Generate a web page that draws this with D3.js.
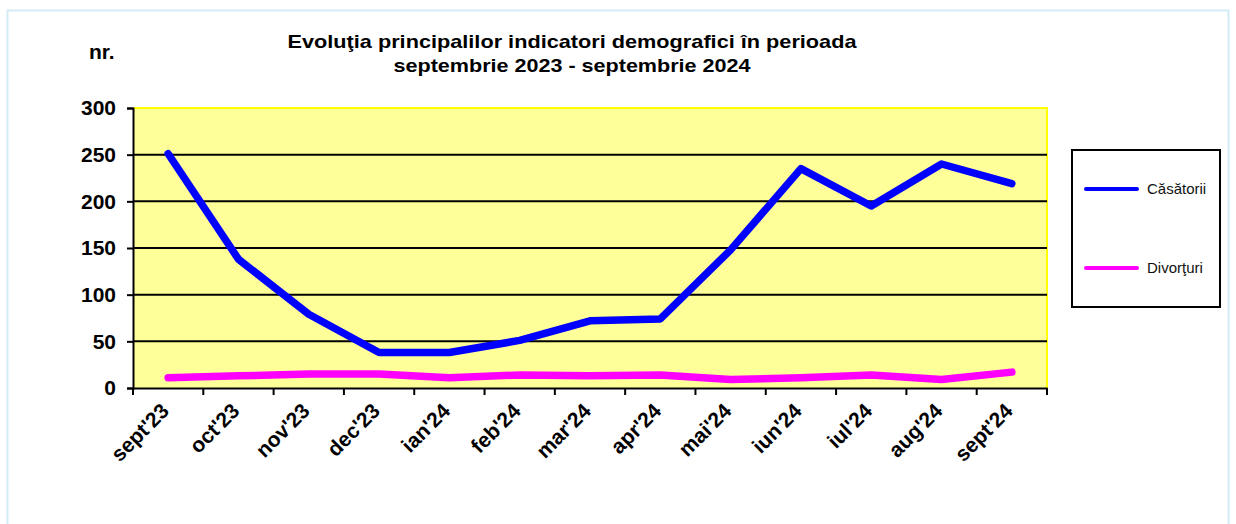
<!DOCTYPE html>
<html>
<head>
<meta charset="utf-8">
<script src="https://cdn.jsdelivr.net/npm/d3@7"></script>
<style>
    body { margin: 0; background: #fff; }
    svg { display: block; font-family: "Liberation Sans", Arial, sans-serif; }
</style>
</head>
<body>
<svg class="chart"></svg>
<script>
var months = ["sept'23", "oct'23", "nov'23", "dec'23", "ian'24", "feb'24", "mar'24",
              "apr'24", "mai'24", "iun'24", "iul'24", "aug'24", "sept'24"];
var casatorii = [251, 138, 79, 38, 38, 51, 72, 74, 148, 235, 195, 240, 219];
var divorturi = [11, 13, 15, 15, 11, 14, 13, 14, 9, 11, 14, 9, 17];
var yTicks = [0, 50, 100, 150, 200, 250, 300];
var seriesNames = ['Căsătorii', 'Divorţuri'];
var titleLines = ['Evoluţia principalilor indicatori demografici în perioada',
                  'septembrie 2023 - septembrie 2024'];

var config = {
    width: 1236,
    height: 524,
    margin: { top: 108, right: 189, bottom: 136, left: 133 }
};
config.innerWidth = config.width - config.margin.left - config.margin.right;
config.innerHeight = config.height - config.margin.top - config.margin.bottom;

var colors = ['#0000ff', '#ff00ff'];
var series = [casatorii, divorturi];

var chart = d3.select('.chart')
    .attr('width', config.width)
    .attr('height', config.height);

// outer frame
chart.append('rect')
    .attr('x', 7.5).attr('y', 10.5)
    .attr('width', 1221).attr('height', 530)
    .attr('fill', 'none')
    .attr('stroke', '#d2ebf5')
    .attr('stroke-width', 2);

// title
chart.selectAll('.title')
    .data(titleLines)
    .enter().append('text')
    .attr('class', 'title')
    .attr('x', 572)
    .attr('y', function(d, i) { return i ? 72 : 48; })
    .attr('text-anchor', 'middle')
    .attr('font-size', 19)
    .attr('font-weight', 'bold')
    .attr('textLength', function(d, i) { return i ? 357 : 569; })
    .attr('lengthAdjust', 'spacingAndGlyphs')
    .text(function(d) { return d; });

chart.append('text')
    .attr('x', 89).attr('y', 59)
    .attr('font-size', 21)
    .attr('font-weight', 'bold')
    .text('nr.');

var inner = chart.append('g')
    .attr('transform', 'translate(' + config.margin.left + ',' + config.margin.top + ')');

var x = d3.scaleBand().domain(months).range([0, config.innerWidth]).padding(0);
var y = d3.scaleLinear().domain([0, 300]).range([config.innerHeight, 0]);
var cx = function(i) { return x(months[i]) + x.bandwidth() / 2; };

// plot area
inner.append('rect')
    .attr('width', config.innerWidth)
    .attr('height', config.innerHeight)
    .attr('fill', '#ffff99');

inner.append('path')
    .attr('d', 'M0,' + y(300) + 'H' + config.innerWidth + 'V' + y(0))
    .attr('fill', 'none')
    .attr('stroke', '#ffff00')
    .attr('stroke-width', 2);

// gridlines
inner.selectAll('.grid')
    .data(yTicks.filter(function(t) { return t > 0 && t < 300; }))
    .enter().append('line')
    .attr('x1', 0).attr('x2', config.innerWidth)
    .attr('y1', function(d) { return y(d); })
    .attr('y2', function(d) { return y(d); })
    .attr('stroke', '#000')
    .attr('stroke-width', 2);

// y axis
var yAxis = inner.append('g')
    .call(d3.axisLeft(y).tickValues(yTicks).tickSize(6).tickPadding(11));
yAxis.select('.domain').attr('stroke-width', 2);
yAxis.selectAll('.tick line').attr('stroke-width', 2);
yAxis.selectAll('text')
    .attr('font-size', 21)
    .attr('font-weight', 'bold')
    .attr('fill', '#000')
    .attr('font-family', '"Liberation Sans", Arial, sans-serif');

// x axis
var xAxis = inner.append('g')
    .attr('transform', 'translate(0,' + config.innerHeight + ')')
    .call(d3.axisBottom(x).tickSize(0).tickSizeOuter(0).tickPadding(0));
xAxis.select('.domain').attr('stroke-width', 2);
xAxis.selectAll('text')
    .attr('font-size', 21)
    .attr('font-weight', 'bold')
    .attr('fill', '#000')
    .attr('font-family', '"Liberation Sans", Arial, sans-serif')
    .attr('text-anchor', 'end')
    .attr('y', 0)
    .attr('dy', '0.35em')
    .attr('transform', 'translate(-3,19) rotate(-45)');

var boundaries = months.map(function(m) { return x(m); }).concat([config.innerWidth]);
xAxis.selectAll('.bound')
    .data(boundaries)
    .enter().append('line')
    .attr('x1', function(d) { return d; })
    .attr('x2', function(d) { return d; })
    .attr('y1', 0).attr('y2', 7)
    .attr('stroke', '#000')
    .attr('stroke-width', 2);

// lines
var line = d3.line()
    .x(function(d, i) { return cx(i); })
    .y(function(d) { return y(d); });

inner.selectAll('.series')
    .data(series)
    .enter().append('path')
    .attr('d', line)
    .attr('fill', 'none')
    .attr('stroke', function(d, i) { return colors[i]; })
    .attr('stroke-width', 7.5)
    .attr('stroke-linejoin', 'round')
    .attr('stroke-linecap', 'round');

// legend
var legend = chart.append('g');
legend.append('rect')
    .attr('x', 1072).attr('y', 150)
    .attr('width', 148).attr('height', 157)
    .attr('fill', '#fff')
    .attr('stroke', '#000')
    .attr('stroke-width', 2);

var items = legend.selectAll('.item')
    .data(seriesNames)
    .enter().append('g')
    .attr('transform', function(d, i) { return 'translate(0,' + (189 + i * 79) + ')'; });
items.append('line')
    .attr('x1', 1086).attr('x2', 1137)
    .attr('stroke', function(d, i) { return colors[i]; })
    .attr('stroke-width', 4)
    .attr('stroke-linecap', 'round');
items.append('text')
    .attr('x', 1147).attr('y', 5)
    .attr('font-size', 15)
    .attr('fill', '#111')
    .text(function(d) { return d; });
</script>
</body>
</html>
